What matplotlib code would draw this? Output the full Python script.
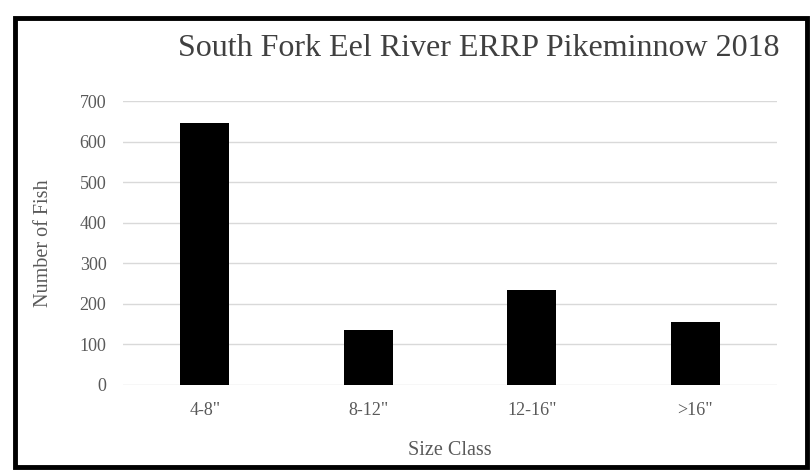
import matplotlib
matplotlib.use("Agg")
import matplotlib.pyplot as plt
from matplotlib.patches import Rectangle

categories = ['4-8"', '8-12"', '12-16"', '>16"']
counts = [645, 135, 234, 155]
yticks = [0, 100, 200, 300, 400, 500, 600, 700]

fig = plt.figure(figsize=(8.1, 4.7), dpi=100)
ax = fig.add_axes([0.152, 0.181, 0.807, 0.604])

x = range(len(categories))
ax.bar(x, counts, width=0.30, color='black', zorder=3)
ax.set_xlim(-0.5, len(categories) - 0.5)
ax.set_ylim(0, 700)
ax.set_yticks(yticks)
ax.set_xticks(list(x))
ax.set_xticklabels(categories)
ax.grid(axis='y', color='#d9d9d9', linewidth=1.0, zorder=0)
for s in ax.spines.values():
    s.set_visible(False)
ax.tick_params(length=0, labelsize=13, colors='#595959', labelfontfamily='Liberation Serif')
ax.tick_params(axis='x', pad=12)
ax.tick_params(axis='y', pad=12)

ax.set_xlabel('Size Class', fontsize=14.5, color='#595959', family='Liberation Serif')
ax.set_ylabel('Number of Fish', fontsize=14.5, color='#595959', family='Liberation Serif')
ax.yaxis.set_label_coords(-0.107, 0.5)
ax.xaxis.set_label_coords(0.5, -0.199)

fig.text(479/810, 1 - 49/470, 'South Fork Eel River ERRP Pikeminnow 2018', ha='center', va='center',
         fontsize=23, color='#404040', family='Liberation Serif')

fig.patches.append(Rectangle((15/810, 3/470), 792/810, 449/470, transform=fig.transFigure,
                             fill=False, edgecolor='black', linewidth=3.5))

fig.savefig('out.png', dpi=100)
